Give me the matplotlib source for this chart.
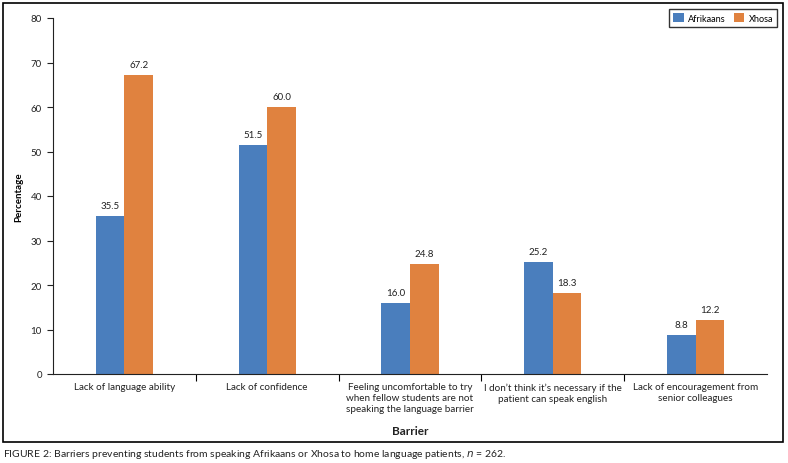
import matplotlib
matplotlib.use("Agg")
import matplotlib.pyplot as plt
import numpy as np
from matplotlib.patches import Rectangle

plt.rcParams["font.family"] = ["Lato", "DejaVu Sans"]

categories = [
    "Lack of language ability",
    "Lack of confidence",
    "Feeling uncomfortable to try\nwhen fellow students are not\nspeaking the language barrier",
    "I don\u2019t think it\u2019s necessary if the\npatient can speak english",
    "Lack of encouragement from\nsenior colleagues",
]
afrikaans = [35.5, 51.5, 16.0, 25.2, 8.8]
xhosa = [67.2, 60.0, 24.8, 18.3, 12.2]
y_ticks = [0, 10, 20, 30, 40, 50, 60, 70, 80]

blue = "#4A7EBD"
orange = "#E0823F"
W, H = 788, 464

fig = plt.figure(figsize=(W / 100, H / 100), dpi=100)
ax = fig.add_axes([53 / W, 1 - 375 / H, (767 - 53) / W, (375 - 19) / H])

x = np.arange(len(categories))
bw = 0.2
b1 = ax.bar(x - bw / 2, afrikaans, bw, color=blue, label="Afrikaans")
b2 = ax.bar(x + bw / 2, xhosa, bw, color=orange, label="Xhosa")
for bars in (b1, b2):
    for r in bars:
        ax.annotate(f"{r.get_height():.1f}", (r.get_x() + r.get_width() / 2, r.get_height()),
                    xytext=(0, 4), textcoords="offset points", ha="center", va="bottom",
                    fontsize=7, color="#222222")

ax.set_xlim(-0.5, len(categories) - 0.5)
ax.set_ylim(0, 80)
ax.set_yticks(y_ticks)
ax.tick_params(axis="y", labelsize=7, length=4, width=0.8, pad=4, colors="#222222")
ax.set_xticks(x)
ax.set_xticklabels(categories, fontsize=7.1, linespacing=1.25, color="#222222")
ax.tick_params(axis="x", length=0, pad=6)
ax.set_xticks(np.arange(0.5, len(categories) - 0.5, 1), minor=True)
ax.tick_params(axis="x", which="minor", length=5, width=0.8)
for s in ("top", "right"):
    ax.spines[s].set_visible(False)
for s in ("left", "bottom"):
    ax.spines[s].set_linewidth(0.8)
    ax.spines[s].set_color("#222222")

ax.set_ylabel("Percentage", fontsize=7, fontweight="bold", labelpad=5)
fig.text(410 / W, 1 - 432 / H, "Barrier", fontsize=8.5, fontweight="bold", ha="center", va="center",
         color="#222222")

leg = fig.legend(loc="upper right", bbox_to_anchor=(780 / W, 1 - 7 / H), ncol=2, fontsize=6.6,
                 frameon=True, fancybox=False, edgecolor="black", handlelength=1.1, handleheight=1.2,
                 columnspacing=0.9, handletextpad=0.5, borderpad=0.45, borderaxespad=0.3)
leg.get_frame().set_linewidth(1.0)

fig.patches.append(Rectangle((3 / W, 1 - 443 / H), 780 / W, 439 / H, transform=fig.transFigure,
                             fill=False, edgecolor="black", linewidth=1.2))

fig.text(3 / W, 1 - 455 / H, r"FIGURE 2: Barriers preventing students from speaking Afrikaans or Xhosa to home language patients, $\it{n}$ = 262.",
         fontsize=7.5, ha="left", va="center", color="#222222")

fig.savefig("out.png", dpi=100)
